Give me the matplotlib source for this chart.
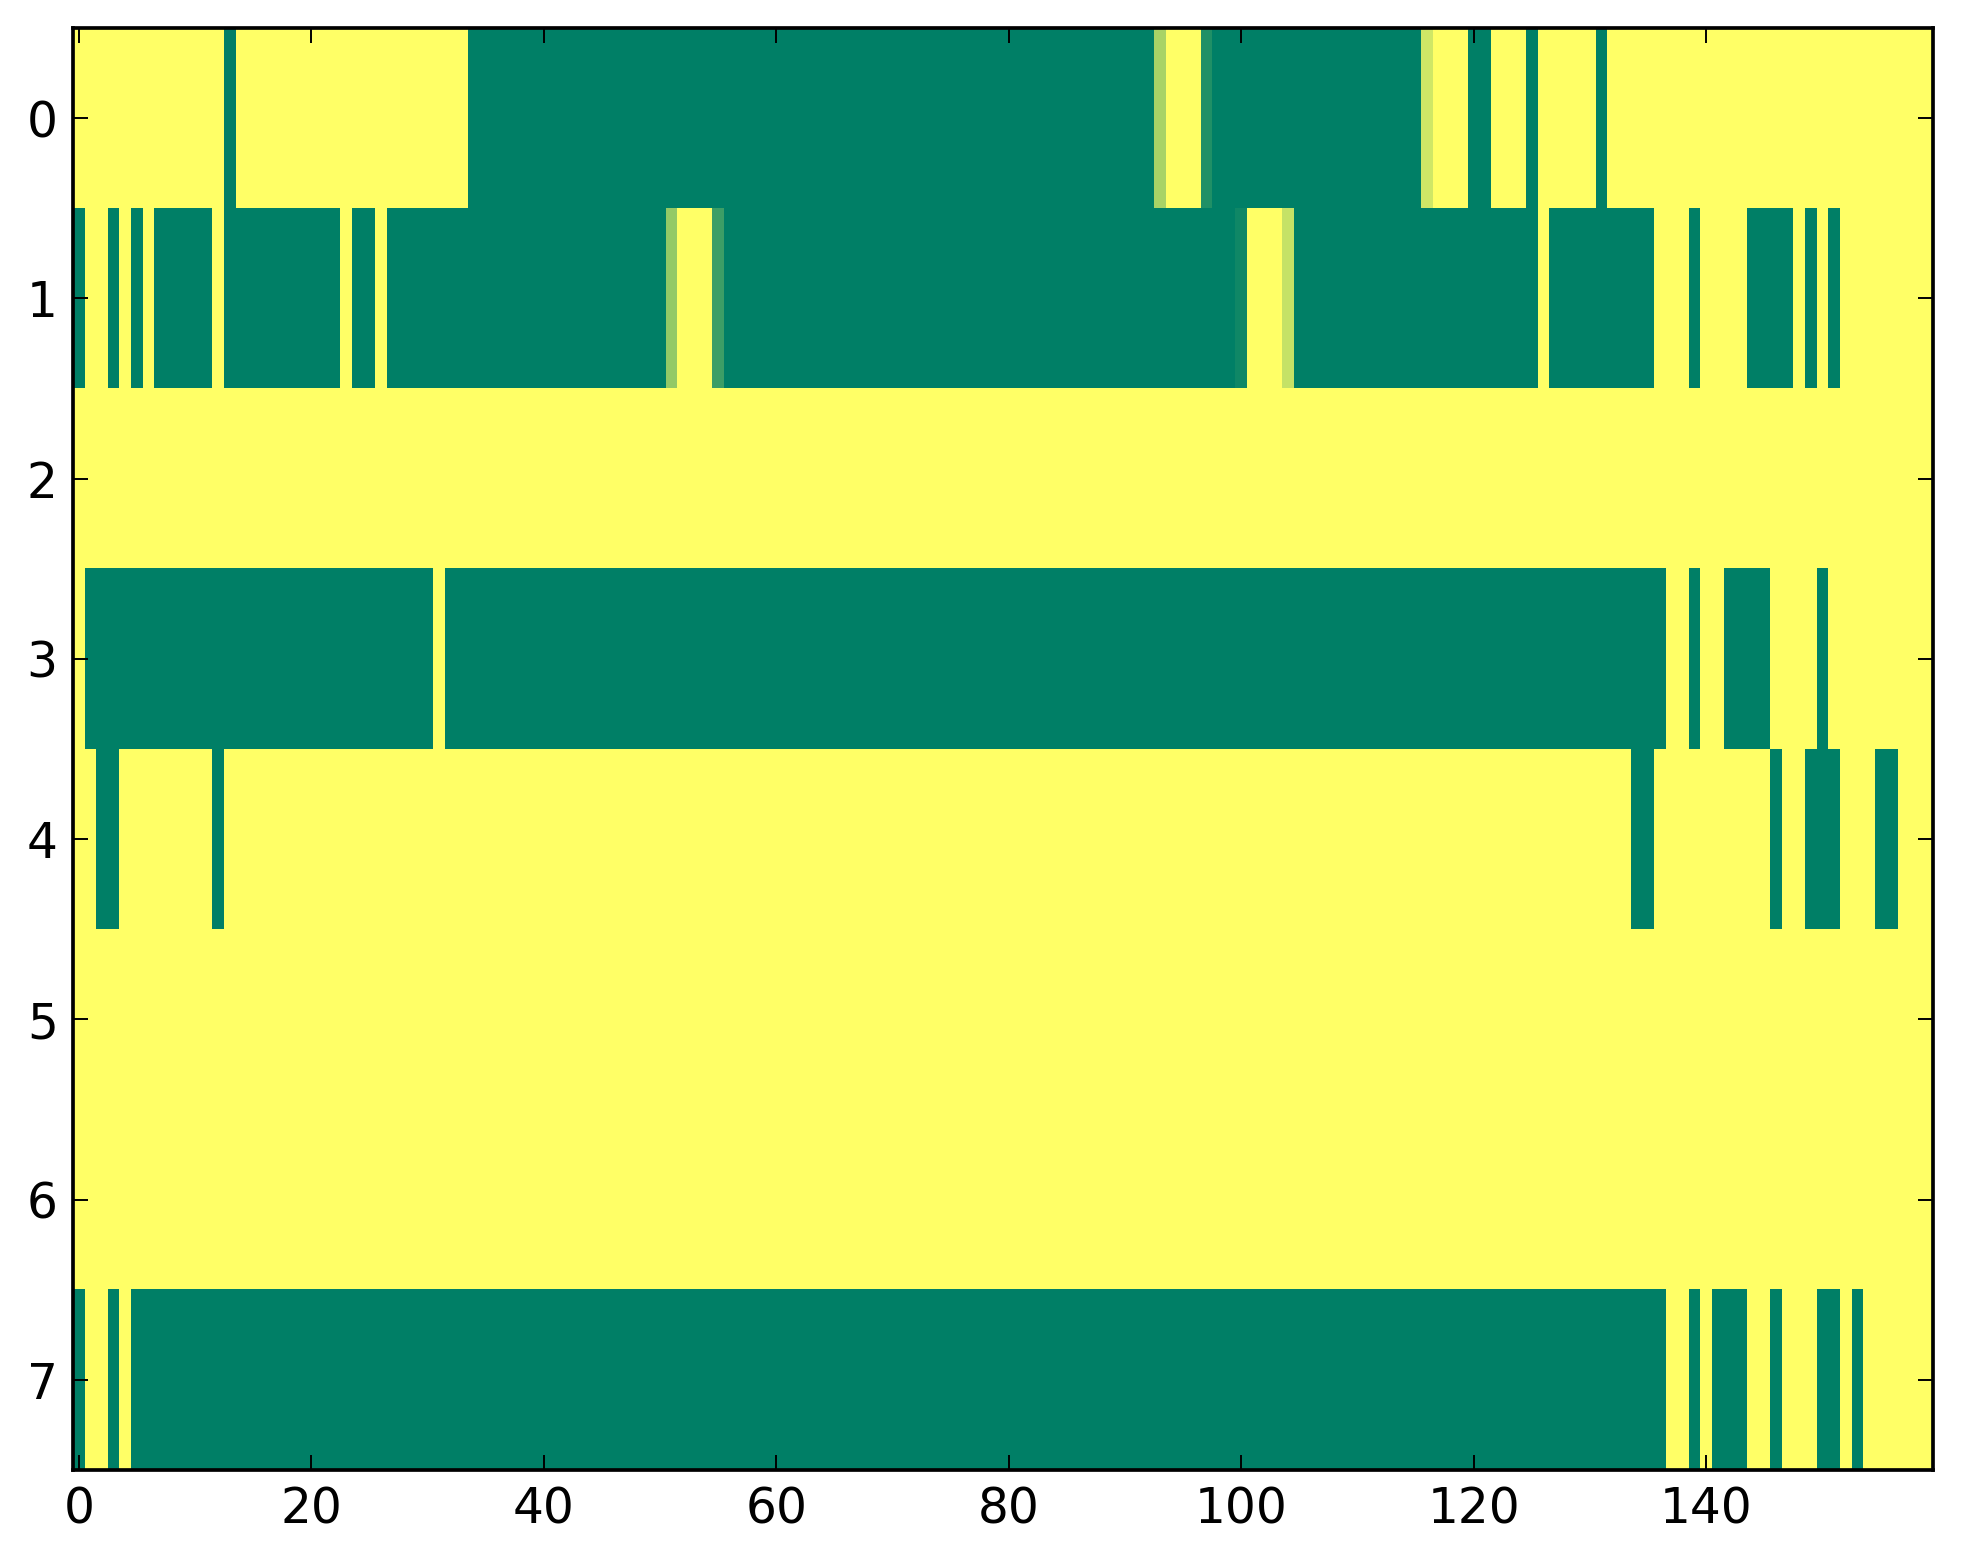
import numpy as np
import matplotlib
matplotlib.use('Agg')
import matplotlib.pyplot as plt

# each row of the grid as (value, run length) pairs, 160 columns per row
# 0 = green, 1 = yellow, fractions are the few in-between cells
row0 = [(1, 13), (0, 1), (1, 20), (0, 59), (0.66, 1), (1, 3), (0.13, 1), (0, 18),
        (0.81, 1), (1, 3), (0, 2), (1, 3), (0, 1), (1, 5), (0, 1), (1, 28)]
row1 = [(0, 1), (1, 2), (0, 1), (1, 1), (0, 1), (1, 1), (0, 5), (1, 1), (0, 10),
        (1, 1), (0, 2), (1, 1), (0, 24), (0.58, 1), (1, 3), (0.24, 1), (0, 44),
        (0.06, 1), (1, 3), (0.77, 1), (0, 21), (1, 1), (0, 9), (1, 3), (0, 1),
        (1, 4), (0, 4), (1, 1), (0, 1), (1, 1), (0, 1), (1, 8)]
row2 = [(1, 160)]
row3 = [(1, 1), (0, 30), (1, 1), (0, 105), (1, 2), (0, 1), (1, 2), (0, 4),
        (1, 4), (0, 1), (1, 9)]
row4 = [(1, 2), (0, 2), (1, 8), (0, 1), (1, 121), (0, 2), (1, 10), (0, 1),
        (1, 2), (0, 3), (1, 3), (0, 2), (1, 3)]
row5 = [(1, 160)]
row6 = [(1, 160)]
row7 = [(0, 1), (1, 2), (0, 1), (1, 1), (0, 132), (1, 2), (0, 1), (1, 1),
        (0, 3), (1, 2), (0, 1), (1, 3), (0, 2), (1, 1), (0, 1), (1, 6)]

rows = [row0, row1, row2, row3, row4, row5, row6, row7]
xticks = [0, 20, 40, 60, 80, 100, 120, 140]
yticks = [0, 1, 2, 3, 4, 5, 6, 7]


def expand(runs):
    vals = [v for v, n in runs]
    counts = [n for v, n in runs]
    return np.repeat(vals, counts)


grid = np.vstack([expand(r) for r in rows])

fig = plt.figure(figsize=(1963 / 200, 1564 / 200), dpi=200)
ax = fig.add_axes([0.0372, 0.0601, 0.9475, 0.9219])
ax.imshow(grid, cmap='summer', vmin=0, vmax=1, aspect='auto',
          interpolation='nearest')

ax.set_xticks(xticks)
ax.set_yticks(yticks)
ax.tick_params(direction='in', top=True, right=True, length=5.4, width=0.7,
               labelsize=17.5, pad=5.5)
for sp in ax.spines.values():
    sp.set_linewidth(1.33)

fig.savefig('out.png', dpi=200, facecolor='white')
